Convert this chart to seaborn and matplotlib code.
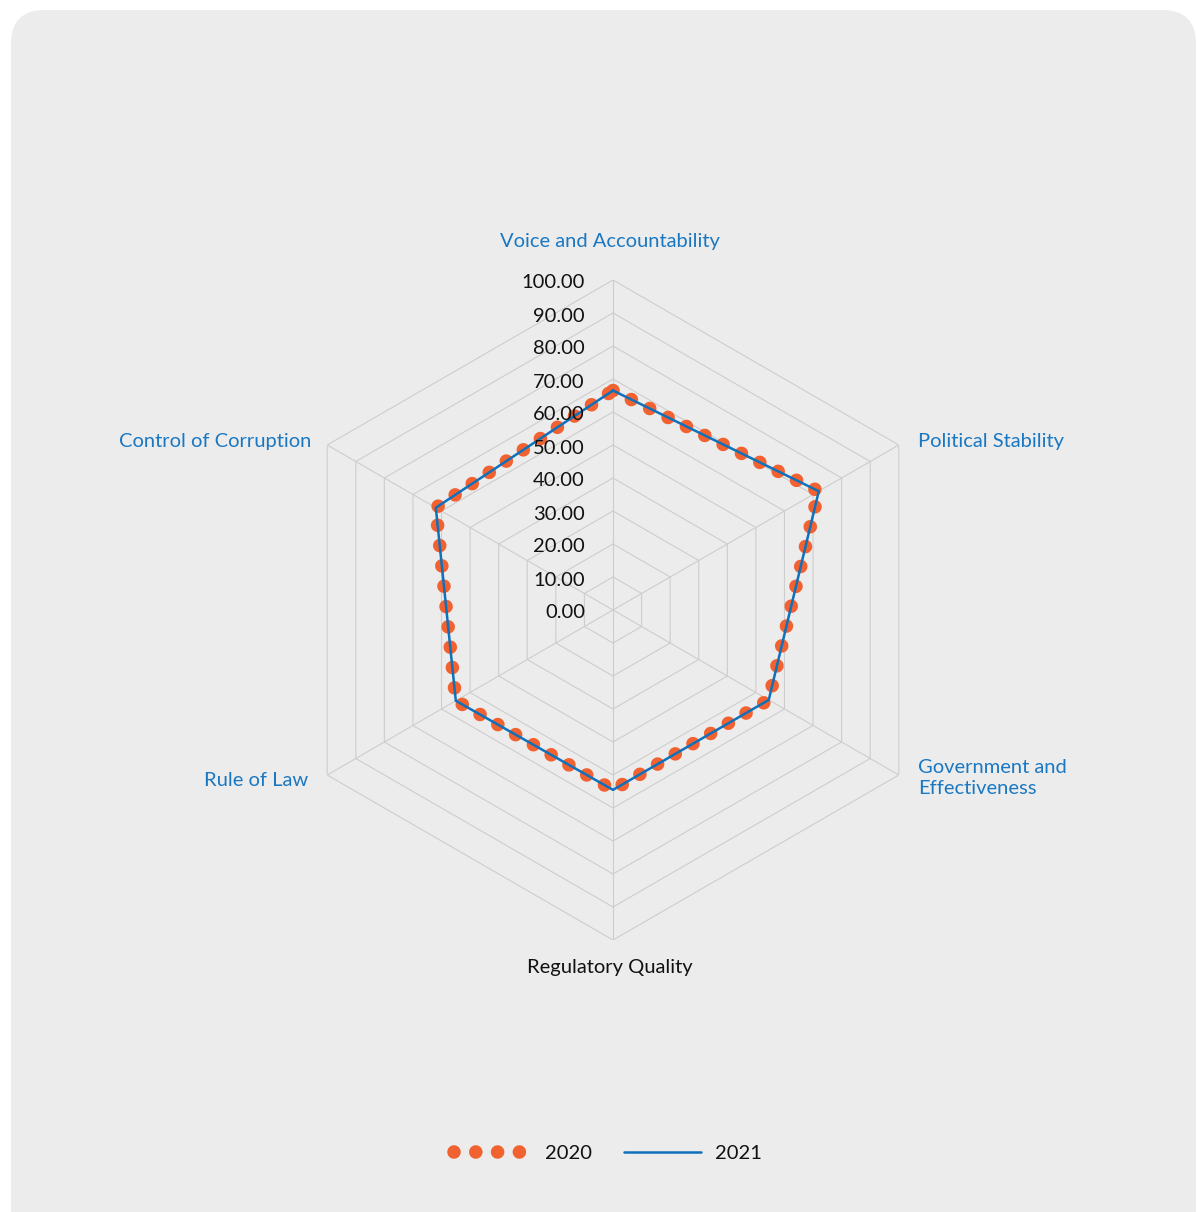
import numpy as np
import seaborn as sns
import matplotlib.pyplot as plt
from matplotlib.patches import FancyBboxPatch
from matplotlib.lines import Line2D

# --- data ---
categorias = ["Voice and Accountability", "Political Stability",
              "Government and\nEffectiveness", "Regulatory Quality",
              "Rule of Law", "Control of Corruption"]
valores_2020 = [66.5, 72.0, 54.5, 54.5, 55.0, 62.0]
valores_2021 = [66.5, 72.0, 54.5, 54.5, 55.0, 62.0]
niveis = [0, 10, 20, 30, 40, 50, 60, 70, 80, 90, 100]
rotulos_niveis = [f"{n:.2f}" for n in niveis]

LARANJA = "#f26130"
AZUL = "#0f70bb"
AZUL_TXT = "#1a78c2"
GRADE = "#cdcdcd"

sns.set_theme(style="white")
plt.rcParams["font.family"] = ["Lato", "DejaVu Sans"]

W, H = 1197, 1212
fig = plt.figure(figsize=(W / 100, H / 100), dpi=100, facecolor="white")

# painel cinza arredondado
painel = FancyBboxPatch((11 / W, -0.05), (W - 12) / W, 1.05 - 10 / H,
                        boxstyle="round,pad=0,rounding_size=0.028",
                        transform=fig.transFigure, facecolor="#ececec",
                        edgecolor="none", zorder=-5)
fig.add_artist(painel)

# eixo polar: centro (613, 610) px, raio 330 px
cx, cy, R = 613, 610, 330
ax = fig.add_axes([(cx - R) / W, (H - cy - R) / H, 2 * R / W, 2 * R / H],
                  projection="polar")
ax.set_facecolor("none")
ax.set_theta_offset(np.pi / 2)
ax.set_theta_direction(-1)

n = len(categorias)
theta = np.linspace(0, 2 * np.pi, n, endpoint=False)
theta_fech = np.append(theta, theta[0])

# grade hexagonal
for nv in niveis[1:]:
    ax.plot(theta_fech, [nv] * (n + 1), color=GRADE, lw=0.8, zorder=1)
for t in theta:
    ax.plot([t, t], [0, 100], color=GRADE, lw=0.8, zorder=1)

# séries
sns.lineplot(x=theta_fech, y=np.append(valores_2020, valores_2020[0]), ax=ax,
             sort=False, estimator=None, color=LARANJA, lw=9.8,
             linestyle=(0, (0.001, 1.5)), dash_capstyle="round", zorder=3)
sns.lineplot(x=theta_fech, y=np.append(valores_2021, valores_2021[0]), ax=ax,
             sort=False, estimator=None, color=AZUL, lw=1.8, zorder=4)

ax.set_ylim(0, 100)
ax.grid(False)
ax.spines["polar"].set_visible(False)
ax.set_xticks([])
ax.set_yticks([])
ax.set_xlabel("")
ax.set_ylabel("")

# rótulos radiais
for nv, rot in zip(niveis, rotulos_niveis):
    ax.annotate(rot, xy=(0, nv), xytext=(-28, -3), textcoords="offset pixels",
                ha="right", va="center", fontsize=14.5, color="#111111", zorder=5)

# rótulos das categorias
offsets = [(-3, 39, "center", "center"), (19, 3, "left", "center"),
           (19, -3, "left", "center"), (-3, -28, "center", "center"),
           (-19, -5, "right", "center"), (-16, 4, "right", "center")]
for t, cat, (dx, dy, ha, va) in zip(theta, categorias, offsets):
    cor = "#111111" if cat == "Regulatory Quality" else AZUL_TXT
    ax.annotate(cat, xy=(t, 100), xytext=(dx, dy), textcoords="offset pixels",
                ha=ha, va=va, fontsize=14.5, color=cor, linespacing=1.35,
                annotation_clip=False)

# legenda
handles = [Line2D([], [], color=LARANJA, lw=9.8, linestyle=(0, (0.001, 1.6)),
                  dash_capstyle="round"),
           Line2D([], [], color=AZUL, lw=1.8)]
fig.legend(handles, ["2020", "2021"], loc="center", ncol=2,
           bbox_to_anchor=(608 / W, 1 - 1153 / H), frameon=False,
           fontsize=14.5, handlelength=3.8, handletextpad=0.7,
           columnspacing=1.6, labelcolor="#111111")

fig.savefig("out.png", dpi=100, facecolor="white")
